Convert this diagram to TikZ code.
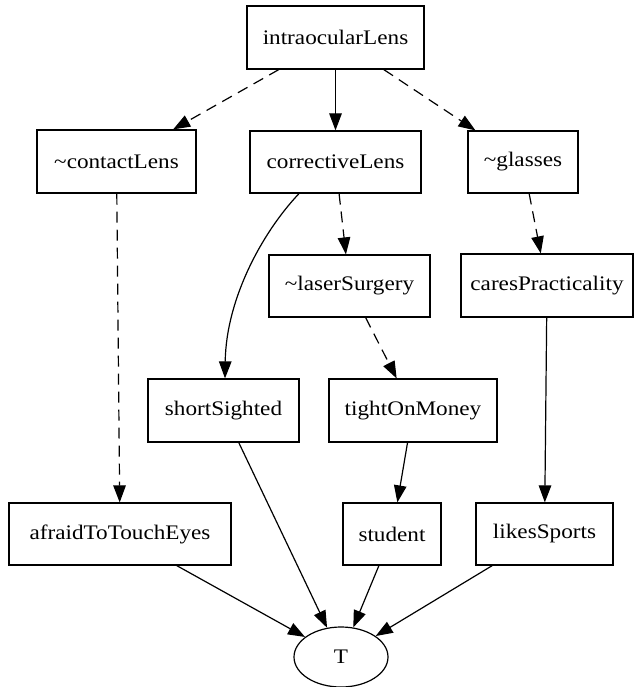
\documentclass[tikz,border=0pt]{standalone}
\usepackage{fontspec}
\setmainfont{Liberation Serif}[FakeStretch=1.12]
\usetikzlibrary{arrows.meta,shapes.geometric}
\begin{document}
\begin{tikzpicture}[x=1pt,y=-1pt,
  lbl/.style={font=\fontsize{20.7}{24}\selectfont},
  box/.style={draw, line width=1.2pt, rectangle, inner sep=0pt, lbl},
  ell/.style={draw, line width=1.2pt, ellipse, inner sep=0pt, minimum width=94pt, minimum height=60pt, lbl},
  edge/.style={line width=1.2pt, -{Triangle[length=17pt,width=12.5pt]}},
  dedge/.style={edge, dash pattern=on 11pt off 7pt}]
\useasboundingbox (0,0) rectangle (635,687);
\node[box, minimum width=177pt, minimum height=63pt] (iol) at (335.5,37.5) {intraocularLens};
\node[box, minimum width=159pt, minimum height=63pt] (cl) at (116.5,161.5) {\textasciitilde contactLens};
\node[box, minimum width=171pt, minimum height=62pt] (cor) at (335.5,162) {correctiveLens};
\node[box, minimum width=110pt, minimum height=62pt] (gl) at (523,162) {\textasciitilde glasses};
\node[box, minimum width=161pt, minimum height=62pt] (ls) at (349.5,286) {\textasciitilde laserSurgery};
\node[box, minimum width=172pt, minimum height=63pt] (cp) at (547,285.5) {caresPracticality};
\node[box, minimum width=151pt, minimum height=63pt] (ss) at (223.5,410.5) {shortSighted};
\node[box, minimum width=168pt, minimum height=63pt] (tom) at (413,410.5) {tightOnMoney};
\node[box, minimum width=222pt, minimum height=62pt] (af) at (120,534) {afraidToTouchEyes};
\node[box, minimum width=98pt, minimum height=62pt] (st) at (392,534) {student};
\node[box, minimum width=137pt, minimum height=62pt] (lsp) at (544.5,534) {likesSports};
\node[ell] (T) at (341,657) {T};
\draw[dedge] (iol) -- (cl);
\draw[edge] (iol) -- (cor);
\draw[dedge] (iol) -- (gl);
\draw[dedge] (cor) -- (ls);
\draw[edge] ([xshift=-36.5pt]cor.south) .. controls +(-37,39) and +(1,-79) .. ([xshift=1.5pt]ss.north);
\draw[dedge] (gl) -- (cp);
\draw[dedge] (ls) -- (tom);
\draw[edge] (cp) -- (lsp);
\draw[edge] (tom) -- (st);
\draw[dedge] (cl) -- (af);
\draw[edge] (af) -- (T);
\draw[edge] (ss) -- (T);
\draw[edge] (st) -- (T);
\draw[edge] (lsp) -- (T);
\end{tikzpicture}
\end{document}
